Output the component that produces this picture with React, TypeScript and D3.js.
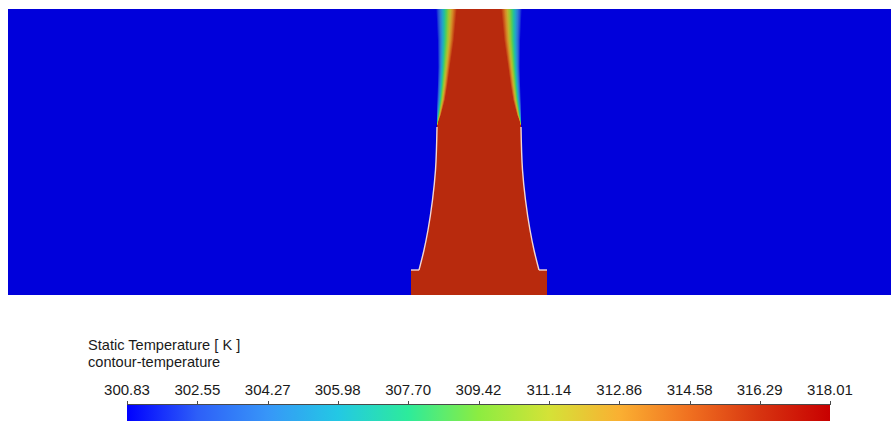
import React from "react";
import * as d3 from "d3";

// Colorbar tick values (K)
const tempTicks = [300.83, 302.55, 304.27, 305.98, 307.7, 309.42, 311.14, 312.86, 314.58, 316.29, 318.01];
const tickLabels = ["300.83", "302.55", "304.27", "305.98", "307.70", "309.42", "311.14", "312.86", "314.58", "316.29", "318.01"];

// Field temperatures (K)
const T_AMBIENT = 300.83;
const T_JET = 316.4;

// Computational domain (mm), jet axis at x = 0
const domainX = [-471, 412];
const domainZ = [0, 286];

// Nozzle base block
const baseHalfWidth = 68;
const baseTop = 25;

// Converging nozzle wall: height z -> half-width
const wallZ = [25, 45, 65, 95, 125, 168];
const wallR = [60, 55, 51, 46.5, 43.5, 42];

// Free jet above the exit: hot core and mixing-layer edge half-widths
const plumeZ = [168, 175, 180, 195, 210, 228, 255, 286];
const coreR = [42, 40, 38, 34, 31.5, 29, 25, 22];
const outerR = [42.5, 42.5, 42.5, 42, 41.5, 41, 41.5, 43];

// Colormap
const cmapPos = [0, 0.1, 0.2, 0.3, 0.4, 0.5, 0.6, 0.7, 0.8, 0.9, 1];
const cmapColors = [
  "rgb(0,0,255)",
  "rgb(45,95,248)",
  "rgb(55,150,248)",
  "rgb(35,200,228)",
  "rgb(45,235,155)",
  "rgb(140,236,65)",
  "rgb(212,226,55)",
  "rgb(250,176,50)",
  "rgb(240,112,32)",
  "rgb(215,52,16)",
  "rgb(200,0,0)",
];

const W = 892;
const H = 421;
const plot = { left: 8, right: 891, top: 9, bottom: 295 };
const bar = { left: 127, right: 830, top: 404 };
const SHADE = 0.86;
const FONT = "'Liberation Sans', Arial, sans-serif";

const cmap = d3
  .scaleLinear<string>()
  .domain(cmapPos)
  .range(cmapColors)
  .interpolate(d3.interpolateRgb)
  .clamp(true);

const tNorm = d3.scaleLinear().domain([tempTicks[0], tempTicks[tempTicks.length - 1]]).range([0, 1]);

const barColor = (t: number) => cmap(tNorm(t));
const fieldColor = (t: number) => {
  const c = d3.rgb(barColor(t));
  return d3.rgb(c.r * SHADE, c.g * SHADE, c.b * SHADE).formatHex();
};

export default function App() {
  const x = d3.scaleLinear().domain(domainX).range([plot.left, plot.right]);
  const z = d3.scaleLinear().domain(domainZ).range([plot.bottom, plot.top]);
  const coreAt = d3.scaleLinear().domain(plumeZ).range(coreR);
  const outerAt = d3.scaleLinear().domain(plumeZ).range(outerR);
  const cb = d3.scaleLinear().domain([tempTicks[0], tempTicks[tempTicks.length - 1]]).range([bar.left, bar.right]);

  const ambient = fieldColor(T_AMBIENT);
  const jet = fieldColor(T_JET);

  // one horizontal slice of the jet per unit of height
  const rows = d3.range(plumeZ[0], domainZ[1], 1).map((z0, i) => {
    const zc = z0 + 0.5;
    const core = coreAt(zc);
    const outer = outerAt(zc);
    const n = 10;
    const frac = (outer - core) / (2 * outer);
    const stops: { o: number; c: string }[] = [];
    for (let k = 0; k <= n; k++) {
      const t = T_AMBIENT + ((T_JET - T_AMBIENT) * k) / n;
      stops.push({ o: (frac * k) / n, c: fieldColor(t) });
    }
    for (let k = n; k >= 0; k--) {
      const t = T_AMBIENT + ((T_JET - T_AMBIENT) * k) / n;
      stops.push({ o: 1 - (frac * k) / n, c: fieldColor(t) });
    }
    return { id: `row${i}`, z0, outer, stops };
  });

  const wallPts = wallZ.map((zz, i) => ({ z: zz, r: wallR[i] }));
  const nozzleArea = d3
    .area<{ z: number; r: number }>()
    .y((d) => z(d.z))
    .x0((d) => x(-d.r))
    .x1((d) => x(d.r))
    .curve(d3.curveMonotoneY);
  const leftWall = d3
    .line<{ z: number; r: number }>()
    .y((d) => z(d.z))
    .x((d) => x(-d.r))
    .curve(d3.curveMonotoneY);
  const rightWall = d3
    .line<{ z: number; r: number }>()
    .y((d) => z(d.z))
    .x((d) => x(d.r))
    .curve(d3.curveMonotoneY);

  const barStops = d3.range(0, 1.0001, 0.025).map((t) => ({
    o: t,
    c: cmap(t),
  }));

  return (
    <svg
      width={W}
      height={H}
      style={{ position: "absolute", left: 0, top: 0, display: "block" }}
    >
      <defs>
        {rows.map((r) => (
          <linearGradient key={r.id} id={r.id} x1="0" x2="1" y1="0" y2="0">
            {r.stops.map((s, k) => (
              <stop key={k} offset={s.o} stopColor={s.c} />
            ))}
          </linearGradient>
        ))}
        <linearGradient id="cbar" x1="0" x2="1" y1="0" y2="0">
          {barStops.map((s, k) => (
            <stop key={k} offset={s.o} stopColor={s.c} />
          ))}
        </linearGradient>
      </defs>

      {/* ambient field */}
      <rect
        x={x(domainX[0])}
        y={z(domainZ[1])}
        width={x(domainX[1]) - x(domainX[0])}
        height={z(domainZ[0]) - z(domainZ[1])}
        fill={ambient}
      />

      {/* free jet */}
      {rows.map((r) => (
        <rect
          key={r.id}
          x={x(-r.outer)}
          y={z(r.z0 + 1)}
          width={x(r.outer) - x(-r.outer)}
          height={z(r.z0) - z(r.z0 + 1) + 0.15}
          fill={`url(#${r.id})`}
          shapeRendering="crispEdges"
        />
      ))}

      {/* nozzle interior */}
      <path d={nozzleArea(wallPts) ?? ""} fill={jet} />
      <rect
        x={x(-baseHalfWidth)}
        y={z(baseTop)}
        width={x(baseHalfWidth) - x(-baseHalfWidth)}
        height={z(0) - z(baseTop)}
        fill={jet}
      />

      {/* nozzle walls */}
      <g fill="none" stroke="#f2d6d2" strokeWidth={1.4}>
        <path d={leftWall(wallPts) ?? ""} />
        <path d={rightWall(wallPts) ?? ""} />
        <line x1={x(-baseHalfWidth)} x2={x(-wallR[0])} y1={z(baseTop)} y2={z(baseTop)} />
        <line x1={x(wallR[0])} x2={x(baseHalfWidth)} y1={z(baseTop)} y2={z(baseTop)} />
      </g>

      {/* legend */}
      <g fontFamily={FONT} fill="#1a1a1a">
        <text x={88} y={350} fontSize={14.6}>Static Temperature [ K ]</text>
        <text x={88} y={367} fontSize={14.6}>contour-temperature</text>
        {tempTicks.map((t, i) => (
          <text key={t} x={cb(t)} y={395} textAnchor="middle" fontSize={15}>
            {tickLabels[i]}
          </text>
        ))}
      </g>

      <rect x={bar.left} y={bar.top} width={bar.right - bar.left} height={H - bar.top + 5} fill="url(#cbar)" />
      <line x1={bar.left} x2={bar.right} y1={bar.top + 0.5} y2={bar.top + 0.5} stroke="#4a4a4a" strokeWidth={1} />
      {tempTicks.map((t) => (
        <line
          key={t}
          x1={Math.round(cb(t)) + 0.5}
          x2={Math.round(cb(t)) + 0.5}
          y1={bar.top - 3}
          y2={bar.top + 1}
          stroke="#4a4a4a"
          strokeWidth={1}
        />
      ))}
    </svg>
  );
}
